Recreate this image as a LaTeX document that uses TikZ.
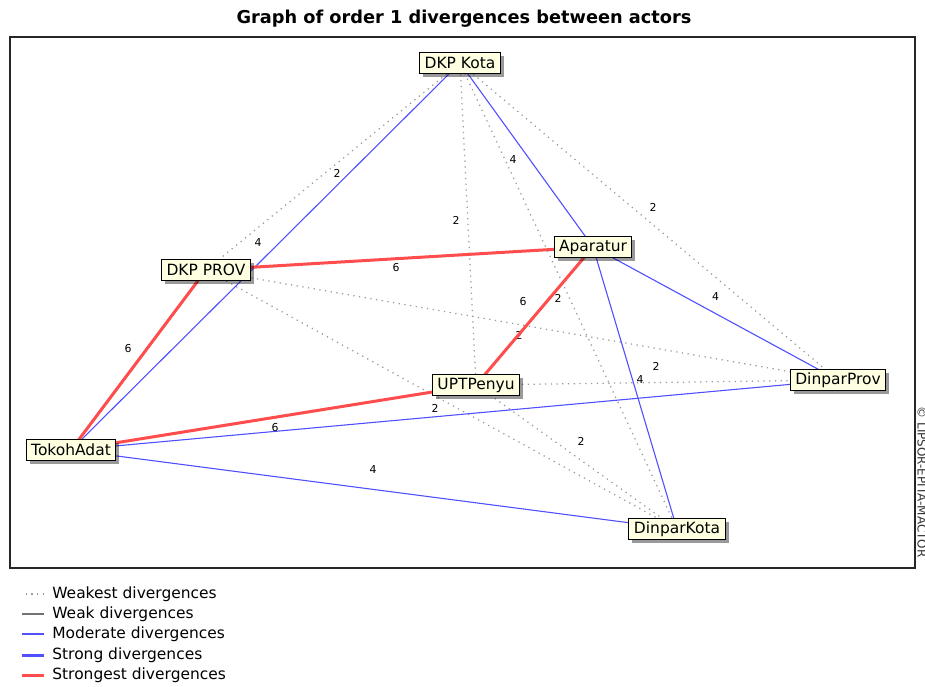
\documentclass[tikz,border=0pt]{standalone}
\usepackage{fontspec}
\setmainfont{DejaVu Sans}
\usetikzlibrary{shadows,backgrounds}

\definecolor{tipyellow}{RGB}{255,255,225}
\definecolor{modblue}{RGB}{80,80,255}
\definecolor{hotred}{RGB}{255,77,77}

\begin{document}
\begin{tikzpicture}[x=0.2mm, y=-0.2mm,
	actor/.style={draw=black, line width=0.2mm, fill=tipyellow,
		font=\fontsize{8.8}{10}\selectfont, inner xsep=1mm, inner ysep=0.4mm,
		minimum height=4.1mm,
		drop shadow={shadow xshift=0.7mm, shadow yshift=-0.7mm, fill=black, opacity=0.4}},
	weakest/.style={draw=black!40, line width=0.25mm, dash pattern=on 0.25mm off 0.9mm},
	weak/.style={draw=black!55, line width=0.25mm},
	moderate/.style={draw=modblue, line width=0.22mm},
	strong/.style={draw=modblue, line width=0.6mm},
	strongest/.style={draw=hotred, line width=0.6mm},
	lbl/.style={font=\fontsize{6.2}{7}\selectfont, inner sep=0.5pt},
	legtxt/.style={anchor=west, inner sep=0pt, font=\fontsize{8.8}{10}\selectfont}]
	\useasboundingbox (0,0) rectangle (925,686);

	% Заголовок и рамка
	\node[anchor=base, font=\bfseries\fontsize{10.1}{12}\selectfont] (title) at (464,23)
		{Graph of order 1 divergences between actors};
	\draw[line width=0.25mm, draw=black!85] (10,37) rectangle (915,568);
	\node[rotate=-90, font=\fontsize{6.8}{8}\selectfont, text=black!80] (copyr) at (922,482)
		{© LIPSOR-EPITA-MACTOR};

	% Акторы
	\node[actor] (kota) at (460,63) {DKP Kota};
	\node[actor] (prov) at (206,270) {DKP PROV};
	\node[actor] (apar) at (593,247) {Aparatur};
	\node[actor] (upt) at (476,385) {UPTPenyu};
	\node[actor] (tokoh) at (71,450) {TokohAdat};
	\node[actor] (dkota) at (677,529) {DinparKota};
	\node[actor] (dprov) at (838,380) {DinparProv};

	\begin{scope}[on background layer]
		% Слабейшие
		\draw[weakest] (kota.center) -- node[lbl, shift={(4,6.5)}] {2} (prov.center);
		\draw[weakest] (kota.center) -- node[lbl, shift={(-12,-4)}] {2} (upt.center);
		\draw[weakest] (kota.center) -- node[lbl, shift={(4,-14.5)}] {2} (dprov.center);
		\draw[weakest] (kota.center) -- node[lbl, shift={(-10.5,2)}] {2} (dkota.center);
		\draw[weakest] (prov.center) -- node[lbl, shift={(-3,10)}] {2} (dprov.center);
		\draw[weakest] (prov.center) -- node[lbl, shift={(-6.5,8.5)}] {2} (dkota.center);
		\draw[weakest] (upt.center) -- node[lbl, shift={(-1,-16.5)}] {2} (dprov.center);
		\draw[weakest] (upt.center) -- node[lbl, shift={(4.5,-16)}] {2} (dkota.center);

		% Средние
		\draw[moderate] (kota.center) -- node[lbl, shift={(-7.5,-13.5)}] {4} (tokoh.center);
		\draw[moderate] (kota.center) -- node[lbl, shift={(-13.5,5)}] {4} (apar.center);
		\draw[moderate] (apar.center) -- node[lbl, shift={(0,-16.5)}] {4} (dprov.center);
		\draw[moderate] (apar.center) -- node[lbl, shift={(5,-8)}] {4} (dkota.center);
		\draw[moderate] (tokoh.center) -- node[lbl, shift={(-1,-19.5)}] {4} (dkota.center);
		\draw[moderate] (tokoh.center) -- (dprov.center);

		% Сильнейшие
		\draw[strongest] (prov.center) -- node[lbl, shift={(-3.5,9.5)}] {6} (apar.center);
		\draw[strongest] (prov.center) -- node[lbl, shift={(-10.5,-11)}] {6} (tokoh.center);
		\draw[strongest] (apar.center) -- node[lbl, shift={(-11.5,-14)}] {6} (upt.center);
		\draw[strongest] (upt.center) -- node[lbl, shift={(1.5,10.5)}] {6} (tokoh.center);
	\end{scope}

	% Легенда
	\node[legtxt] (lg1) at (52,594) {Weakest divergences};
	\node[legtxt] (lg2) at (52,614) {Weak divergences};
	\node[legtxt] (lg3) at (52,634) {Moderate divergences};
	\node[legtxt] (lg4) at (52,655) {Strong divergences};
	\node[legtxt] (lg5) at (52,675) {Strongest divergences};
	\draw[weakest] (lg1.west) ++(-8,0) -- ++(-22,0);
	\draw[weak] (lg2.west) ++(-8,0) -- ++(-22,0);
	\draw[moderate] (lg3.west) ++(-8,0) -- ++(-22,0);
	\draw[strong] (lg4.west) ++(-8,0) -- ++(-22,0);
	\draw[strongest] (lg5.west) ++(-8,0) -- ++(-22,0);
\end{tikzpicture}
\end{document}
